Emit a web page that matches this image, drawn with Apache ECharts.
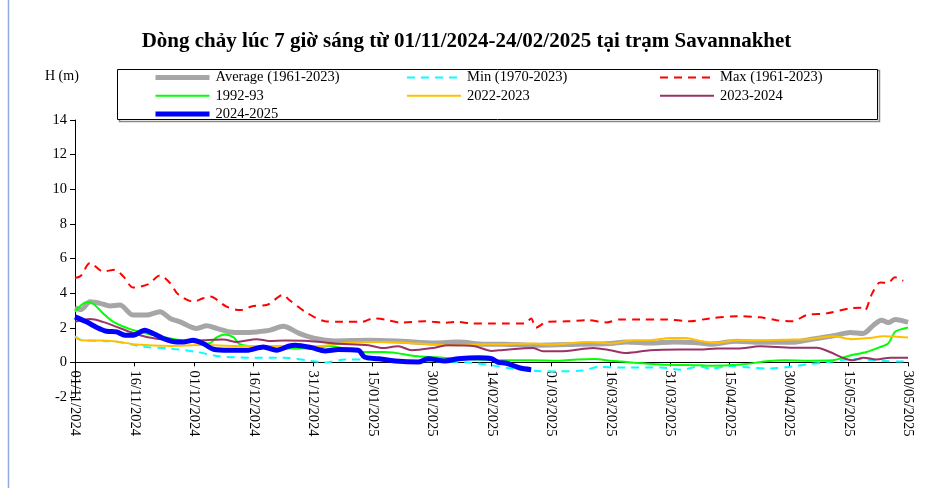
<!DOCTYPE html>
<html>
<head>
<meta charset="utf-8">
<script src="https://cdn.jsdelivr.net/npm/echarts/dist/echarts.min.js"></script>
<style>html,body{margin:0;padding:0;background:#fff}#c{width:933px;height:488px}</style>
</head>
<body>
<div id="c"></div>
<script>
// x values are days since 01/11/2024
const tickLabels = ['01/11/2024','16/11/2024','01/12/2024','16/12/2024','31/12/2024','15/01/2025','30/01/2025','14/02/2025','01/03/2025','16/03/2025','31/03/2025','15/04/2025','30/04/2025','15/05/2025','30/05/2025'];
const seriesNames = ['Average (1961-2023)','Min (1970-2023)','Max (1961-2023)','1992-93','2022-2023','2023-2024','2024-2025'];

const average = [[0,3.15],[1.5,3.05],[3.8,3.5],[6.3,3.41],[8.8,3.26],[11.3,3.31],[14.7,2.73],[18,2.73],[21.4,2.93],[24,2.54],[26.5,2.34],[30.7,1.96],[33.2,2.11],[35.7,1.96],[39,1.76],[42.4,1.72],[45.8,1.76],[49.2,1.86],[52.5,2.08],[56.3,1.7],[60.5,1.38],[65.5,1.24],[74,1.28],[82.3,1.22],[90.7,1.12],[96.6,1.17],[103.4,1.05],[108,1.05],[116,0.99],[124,1.03],[135,1.09],[139,1.18],[145,1.12],[151,1.18],[157.6,1.12],[160,1.05],[166.8,1.22],[172.7,1.16],[181,1.16],[185.3,1.32],[192,1.57],[195.4,1.73],[198.7,1.67],[201.3,2.15],[203.3,2.44],[205,2.3],[206.8,2.48],[210,2.31]];
const minimum = [[0,1.5],[1.7,1.28],[7,1.24],[11.3,1.16],[15,1.0],[17,0.9],[24,0.8],[30.7,0.6],[36.5,0.35],[45,0.27],[52.5,0.27],[59.7,0.08],[63,0.0],[68,0.16],[74,0.16],[82,0.1],[90,0.06],[99,0.0],[105,-0.17],[110,-0.35],[116.4,-0.5],[122,-0.52],[128,-0.47],[132,-0.27],[139,-0.3],[147.5,-0.3],[153,-0.42],[157.6,-0.23],[160,-0.36],[165,-0.23],[170,-0.3],[175,-0.36],[181,-0.23],[185,-0.1],[191,0.05],[196,0.2],[200,0.15],[203,0.1],[208,0.05],[210,0.12]];
const maximum = [[0,4.87],[1.5,5.0],[3.8,5.74],[7.1,5.25],[10,5.35],[12.2,4.96],[14.7,4.32],[18.5,4.52],[21.4,5.02],[24,4.57],[26,3.93],[29.8,3.51],[32.3,3.7],[34,3.8],[38.2,3.22],[41.6,3.02],[45,3.26],[48.3,3.31],[52.5,3.9],[53.8,3.65],[58,2.93],[63,2.38],[67.2,2.34],[72.3,2.34],[75.2,2.54],[78,2.48],[82,2.3],[88.2,2.38],[93.3,2.29],[96.6,2.34],[100,2.25],[105,2.25],[108,2.25],[113.4,2.25],[115,2.54],[116.2,2.0],[119,2.34],[124,2.37],[129,2.44],[134,2.31],[137.4,2.48],[142.4,2.48],[149,2.48],[155,2.38],[160,2.54],[166.8,2.67],[172.7,2.6],[176.9,2.44],[181,2.38],[184.4,2.73],[189.4,2.83],[195.3,3.12],[198,3.15],[199,2.98],[201,4.0],[203,4.61],[205,4.6],[206.7,4.92],[208.8,4.71]];
const y1992 = [[0,2.93],[2.9,3.47],[4.5,3.4],[7.1,2.83],[9.7,2.34],[13.9,1.92],[18,1.67],[24,1.38],[28,1.24],[32.3,1.09],[34,1.1],[35.7,1.44],[37.8,1.61],[40,1.44],[41.5,1.05],[45.8,0.89],[49,0.8],[53,0.8],[61,0.83],[64,0.95],[67,0.85],[73,0.6],[78,0.6],[86.5,0.35],[91,0.3],[96.6,0.21],[103,0.15],[108,0.12],[115,0.12],[122,0.1],[126.5,0.17],[131,0.2],[135,0.1],[147.5,-0.12],[157.6,-0.17],[160,-0.2],[168,-0.12],[175,0.08],[179,0.12],[185,0.1],[191,0.12],[195.4,0.4],[199.5,0.6],[203,0.89],[205,1.09],[206.7,1.76],[208.4,1.92],[210,2.02]];
const y2022 = [[0,1.47],[1.7,1.28],[7,1.26],[11.3,1.18],[15.5,1.03],[24,0.95],[32.3,1.0],[40.8,0.95],[49,0.95],[53,0.95],[61,0.93],[69.7,1.15],[78,1.18],[86.5,1.09],[95,0.99],[103.4,1.05],[107,1.05],[115.5,1.09],[119.7,1.03],[129.8,1.18],[135,1.09],[140.7,1.28],[145,1.28],[150,1.41],[154,1.41],[157.6,1.24],[161.8,1.12],[167,1.28],[172.7,1.28],[181,1.32],[185,1.34],[191,1.51],[196,1.34],[200.4,1.41],[203.8,1.51],[210,1.43]];
const y2023 = [[0,2.34],[3.8,2.5],[7,2.34],[10.5,2.05],[13.9,1.76],[18,1.47],[24,1.28],[28,1.24],[32.3,1.28],[37.4,1.32],[40.8,1.18],[45.8,1.34],[49,1.24],[53,1.26],[58.8,1.24],[65.5,1.09],[74,0.99],[77.3,0.83],[81.5,0.93],[84.9,0.7],[90.7,0.85],[94,0.99],[100.8,0.93],[105,0.66],[108,0.72],[115.5,0.83],[118,0.64],[124,0.66],[130.6,0.83],[135,0.7],[139,0.54],[145,0.7],[152.5,0.74],[157.6,0.74],[161.8,0.8],[167,0.8],[172.7,0.93],[181,0.85],[187,0.85],[190.3,0.6],[193.7,0.25],[196,0.12],[198.8,0.27],[202,0.17],[205.6,0.27],[210,0.27]];
const y2024 = [[0,2.63],[2.9,2.34],[5.5,2.02],[8,1.8],[10.5,1.76],[12.6,1.57],[14.7,1.57],[17.6,1.86],[19.7,1.67],[22.3,1.38],[25.6,1.18],[27.3,1.18],[29.8,1.28],[32.3,1.09],[34.9,0.76],[39,0.7],[43.3,0.7],[47.5,0.89],[50.8,0.7],[53.8,0.93],[55.5,0.99],[59.7,0.85],[63,0.66],[66.4,0.74],[71.4,0.7],[73,0.31],[76.5,0.21],[80.7,0.08],[86.5,0.02],[89,0.21],[93.3,0.08],[96.6,0.21],[101.7,0.27],[105,0.21],[106.7,0.0],[108.8,-0.05],[112,-0.31],[115,-0.42]];

const seriesData = [average, minimum, maximum, y1992, y2022, y2023, y2024];
const colors = ['#A6A6A6','#00FFFF','#FF0000','#00FF00','#FFC000','#993366','#0000FF'];
const widths = [5,2,2,2,2,2,5];
const types = ['solid',[8,6],[8,6],'solid','solid','solid','solid'];

const serif = '"Liberation Serif", "Times New Roman", serif';
const chart = echarts.init(document.getElementById('c'));

function legendCol(left, idx) {
  return {
    orient: 'vertical', left: left, top: 70, padding: 0,
    itemWidth: 54, itemHeight: 14, itemGap: 3.2,
    itemStyle: {opacity: 0},
    textStyle: {fontFamily: serif, fontSize: 14.5, color: '#000', padding: [0,0,0,1]},
    data: idx.map(function (i) {
      return {name: seriesNames[i], lineStyle: {width: widths[i], color: colors[i], type: types[i]}};
    }),
    selectedMode: false
  };
}

chart.setOption({
  animation: false,
  backgroundColor: '#fff',
  title: {
    text: 'Dòng chảy lúc 7 giờ sáng từ 01/11/2024-24/02/2025 tại trạm Savannakhet',
    left: 'center', top: 26,
    textStyle: {fontFamily: serif, fontSize: 21, fontWeight: 'bold', color: '#000'}
  },
  legend: [
    legendCol(153, [0, 3, 6]),
    legendCol(406, [1, 4]),
    legendCol(659, [2, 5])
  ],
  graphic: [
    {type: 'rect', shape: {x: 119.5, y: 70.5, width: 760, height: 51}, style: {fill: 'none', stroke: '#888', lineWidth: 1.5}, z: -1},
    {type: 'rect', shape: {x: 117.5, y: 69.5, width: 760, height: 50}, style: {fill: '#fff', stroke: '#000', lineWidth: 1}, z: -1},
    {type: 'line', shape: {x1: 8.5, y1: 0, x2: 8.5, y2: 488}, style: {stroke: '#8faadc', lineWidth: 1.5}},
    {type: 'text', left: 45, top: 69, style: {text: 'H (m)', font: '14px ' + serif, fill: '#000'}}
  ],
  grid: {left: 75, right: 25, top: 120, bottom: 91},
  xAxis: {
    type: 'value', min: 0, max: 210, interval: 15,
    offset: -34.6,
    axisLine: {onZero: false, lineStyle: {color: '#000', width: 1}},
    axisTick: {show: true, length: 4, lineStyle: {color: '#000'}},
    splitLine: {show: false},
    axisLabel: {
      rotate: -90, fontFamily: serif, fontSize: 14.5, color: '#000', margin: 8,
      formatter: function (v) { return tickLabels[Math.round(v / 15)] || ''; }
    }
  },
  yAxis: {
    type: 'value', min: -2, max: 14, interval: 2,
    axisLine: {show: true, lineStyle: {color: '#000', width: 1}},
    axisTick: {show: true, length: 5, lineStyle: {color: '#000'}},
    splitLine: {show: false},
    axisLabel: {fontFamily: serif, fontSize: 14.5, color: '#000', margin: 8}
  },
  series: seriesData.map(function (d, i) {
    return {
      name: seriesNames[i], type: 'line', data: d, symbol: 'none', smooth: 0.3,
      lineStyle: {color: colors[i], width: widths[i], type: types[i]},
      itemStyle: {color: colors[i]}, z: 2 + i
    };
  })
});
</script>
</body>
</html>
